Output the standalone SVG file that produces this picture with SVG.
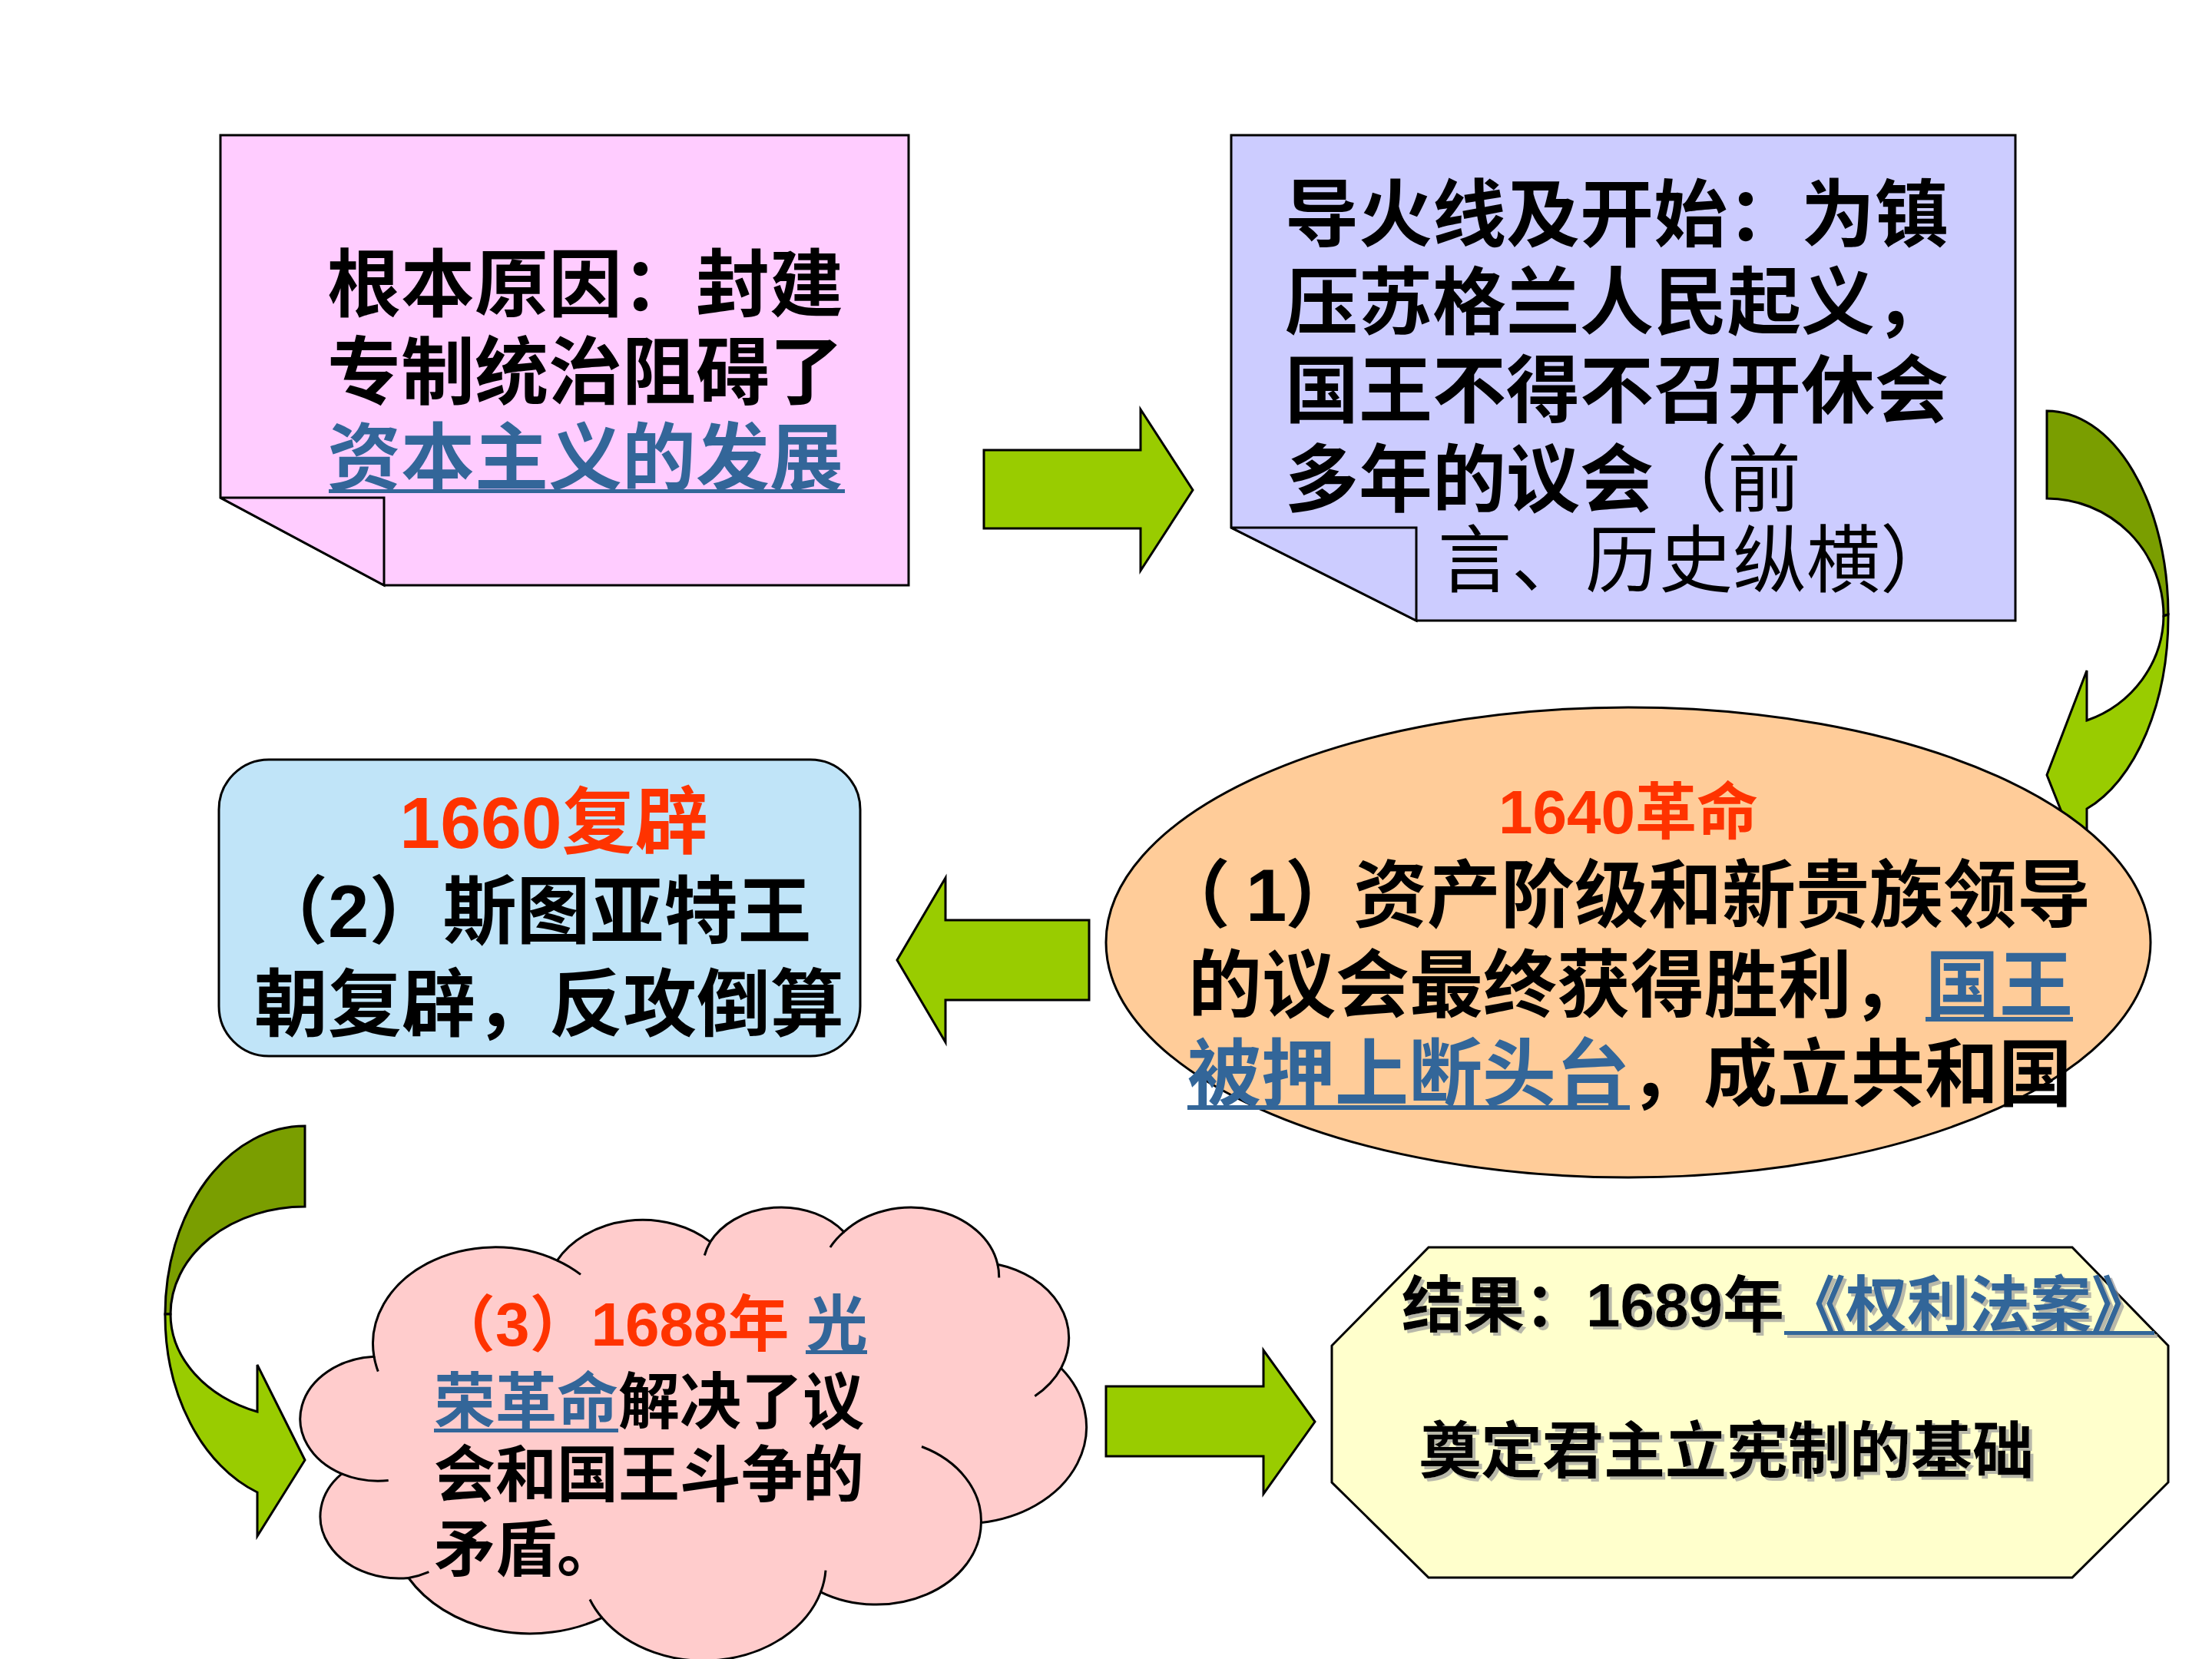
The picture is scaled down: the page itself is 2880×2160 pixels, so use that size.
<svg xmlns="http://www.w3.org/2000/svg" width="2880" height="2160" viewBox="0 0 2880 2160">
<defs>
<style>
.t{font-family:'Liberation Sans','Noto Sans CJK SC',sans-serif;font-weight:bold;fill:#000}
.n{font-weight:normal}
.red{fill:#FF3300}
.link{fill:#336699}
.ul{fill:#336699}
.sh{stroke:#000;stroke-width:3;stroke-linejoin:miter}
.arrow{fill:#99CC00;stroke:#000;stroke-width:3;stroke-linejoin:miter}
.dark{fill:#7A9E00;stroke:#000;stroke-width:3}
.light{fill:#99CC00;stroke:#000;stroke-width:3}
.curl{fill:none;stroke:#000;stroke-width:3}
</style>
<filter id="tshadow" x="-5%" y="-20%" width="110%" height="140%">
<feDropShadow dx="4" dy="4" stdDeviation="0.5" flood-color="#9a9a9a" flood-opacity="0.7"/>
</filter>
</defs>
<rect width="2880" height="2160" fill="#FFFFFF"/>

<g id="connectors">
<polygon class="arrow" points="1281,586 1485,586 1485,533 1553,638 1485,743 1485,688 1281,688"/>
<g id="curve-right">
<path class="dark" d="M2665,535 A158,265 0 0 1 2823,800 L2817,802 A152,153 0 0 0 2665,649 Z"/>
<path class="light" d="M2817,802 L2823,800 A158,265 0 0 1 2717,1053 L2717,1140 L2665,1009 L2717,873 L2717,938 A152,147 0 0 0 2817,802 Z"/>
</g>
<polygon class="arrow" points="1418,1198 1231,1198 1231,1143 1168,1250 1231,1357 1231,1302 1418,1302"/>
<g id="curve-left">
<path class="dark" d="M397,1466 A182,245 0 0 0 215,1711 L222,1711 A175,140 0 0 1 397,1571 Z"/>
<path class="light" d="M222,1711 L215,1711 A182,245 0 0 0 335,1943 L335,2000 L397,1901 L335,1777 L335,1838 A175,136 0 0 1 222,1711 Z"/>
</g>
<polygon class="arrow" points="1440,1805 1645,1805 1645,1758 1712,1851 1645,1945 1645,1896 1440,1896"/>
</g>

<g id="node-cause">
<path class="sh" fill="#FFCCFF" d="M287,176 H1183 V762 H500 L287,648 Z"/>
<path class="sh" fill="#FFCCFF" d="M287,648 H500 V762 Z"/>
<text class="t" font-size="96" x="426" y="404">根本原因：封建</text>
<text class="t" font-size="96" x="426" y="518">专制统治阻碍了</text>
<text class="t link" font-size="96" x="426" y="630">资本主义的发展</text>
<rect class="ul" x="428" y="637" width="672" height="5"/>
</g>

<g id="node-trigger">
<path class="sh" fill="#CCCCFF" d="M1603,176 H2624 V808 H1844 L1603,687 Z"/>
<path class="sh" fill="#CCCCFF" d="M1603,687 H1844 V808 Z"/>
<text class="t" font-size="96" x="1673" y="313">导火线及开始：为镇</text>
<text class="t" font-size="96" x="1673" y="427">压苏格兰人民起义，</text>
<text class="t" font-size="96" x="1673" y="542">国王不得不召开休会</text>
<text class="t" font-size="96" x="1673" y="658">多年的议会<tspan class="n">（前</tspan></text>
<text class="t n" font-size="96" x="1872" y="763">言、历史纵横）</text>
</g>

<g id="node-1640">
<ellipse class="sh" fill="#FFCC99" cx="2120" cy="1227" rx="680" ry="306"/>
<text class="t red" font-size="80" x="2120" y="1085" text-anchor="middle">1640革命</text>
<text class="t" font-size="96" y="1199"><tspan x="1506 1622 1673">（1）</tspan><tspan x="1762">资产阶级和新贵族领导</tspan></text>
<text class="t" font-size="96" x="1547" y="1316">的议会最终获得胜利，<tspan class="link">国王</tspan></text>
<rect class="ul" x="2507" y="1324" width="192" height="6"/>
<text class="t" font-size="96" x="1546" y="1432"><tspan class="link">被押上断头台</tspan>，成立共和国</text>
<rect class="ul" x="1546" y="1439" width="576" height="6"/>
</g>

<g id="node-1660">
<rect class="sh" fill="#C0E4F8" x="285" y="989" width="835" height="386" rx="65" ry="65"/>
<text class="t red" font-size="95" x="721" y="1104" text-anchor="middle">1660复辟</text>
<text class="t" font-size="96" x="331" y="1220">（2）斯图亚特王</text>
<text class="t" font-size="96" x="331" y="1341">朝复辟，反攻倒算</text>
</g>

<g id="node-1688">
<path class="sh" fill="#FFCCCC" d="M487,1766.3 A159.3,125.5 0 0 1 725.4,1641.1 A125.8,99.2 0 0 1 924.8,1616.9 A103,81.2 0 0 1 1098.8,1603.9 A114.6,90.1 0 0 1 1298.9,1646.2 A125.8,99.3 0 0 1 1381.5,1781.2 A159.8,125.9 0 0 1 1277.4,1982.5 A136.5,107.4 0 0 1 1068.6,2072.8 A159.3,125.9 0 0 1 783.8,2106.3 A182.1,144 0 0 1 531.9,2054.5 A102.8,80.8 0 0 1 444.9,1918.9 A102.5,81.2 0 0 1 487,1766.3 Z"/>
<path class="curl" d="M505.7,1927.5 A102.5,81.2 0 0 1 444.9,1918.9 M558.4,2046.6 A102.8,80.8 0 0 1 531.9,2054.5 M783.8,2106.3 A159.3,125.9 0 0 1 768,2082.5 M1075,2044.6 A159.3,125.9 0 0 1 1068.6,2072.8 M1200,1883.5 A136.5,107.4 0 0 1 1277.4,1982.5 M1381.5,1781.2 A125.8,99.3 0 0 1 1347.3,1817.7 M1298.9,1646.2 A114.6,90.1 0 0 1 1300.7,1663.5 M1080.9,1624 A114.6,90.1 0 0 1 1098.8,1603.9 M917.3,1634.5 A103,81.2 0 0 1 924.8,1616.9 M725.4,1641.1 A159.3,125.5 0 0 1 756,1659.4 M492.3,1785.6 A159.3,125.5 0 0 1 487,1766.3"/>
<text class="t" font-size="80" x="565" y="1752"><tspan class="red">（3）1688年 </tspan><tspan class="link">光</tspan></text>
<rect class="ul" x="1049" y="1758" width="80" height="5"/>
<text class="t" font-size="80" x="565" y="1853"><tspan class="link">荣革命</tspan>解决了议</text>
<rect class="ul" x="565" y="1860" width="240" height="5"/>
<text class="t" font-size="80" x="565" y="1948">会和国王斗争的</text>
<text class="t" font-size="80" x="565" y="2045">矛盾。</text>
</g>

<g id="node-result">
<polygon class="sh" fill="#FFFFCC" points="1860,1624 2698,1624 2823,1752 2823,1930 2698,2054 1860,2054 1734,1930 1734,1752"/>
<g filter="url(#tshadow)">
<text class="t" font-size="80" x="1825" y="1727">结果：1689年<tspan class="link">《权利法案》</tspan></text>
<rect class="ul" x="2323" y="1733" width="482" height="5"/>
<text class="t" font-size="80" x="1848" y="1917">奠定君主立宪制的基础</text>
</g>
</g>
</svg>
